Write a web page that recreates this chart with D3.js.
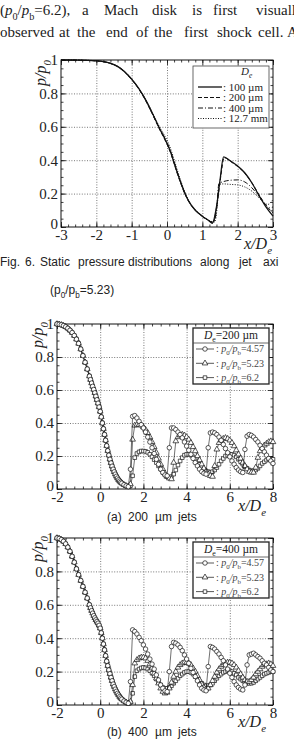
<!DOCTYPE html>
<html>
<head>
<meta charset="utf-8">
<script src="https://cdn.jsdelivr.net/npm/d3@7"></script>
<style>
  html, body { margin: 0; padding: 0; background: #fff; }
  svg { display: block; }
</style>
</head>
<body>
<div id="page"></div>
<script>
// ─── DATA ─────────────────────────────────────────────────────────────────────
//
// Fig. 6: static pressure p/p0 along the jet axis, four nozzle sizes (p0/pb=5.23)
// Each entry is [x/De, p/p0].
const fig6De100 = [
  [-3, 1], [-2.5, 0.999], [-2, 0.995], [-1.8, 0.99], [-1.6, 0.98], [-1.4, 0.962],
  [-1.2, 0.93], [-1, 0.885], [-0.8, 0.83], [-0.6, 0.76], [-0.4, 0.675], [-0.3, 0.63],
  [-0.2, 0.585], [-0.1, 0.545], [0, 0.5], [0.1, 0.45], [0.2, 0.385], [0.3, 0.32],
  [0.4, 0.26], [0.5, 0.205], [0.6, 0.16], [0.8, 0.1], [1, 0.065], [1.2, 0.035],
  [1.28, 0.022], [1.4, 0.12], [1.5, 0.28], [1.6, 0.42], [1.8, 0.395], [2, 0.365],
  [2.2, 0.325], [2.4, 0.265], [2.6, 0.19], [2.8, 0.12], [3, 0.065]
];
const fig6De200 = [
  [-3, 1], [-2.5, 0.999], [-2, 0.995], [-1.8, 0.99], [-1.6, 0.98], [-1.4, 0.96],
  [-1.2, 0.928], [-1, 0.882], [-0.8, 0.826], [-0.6, 0.755], [-0.4, 0.67], [-0.3, 0.625],
  [-0.2, 0.58], [-0.1, 0.54], [0, 0.495], [0.1, 0.445], [0.2, 0.38], [0.3, 0.315],
  [0.4, 0.255], [0.5, 0.2], [0.6, 0.158], [0.8, 0.1], [1, 0.065], [1.2, 0.036],
  [1.3, 0.025], [1.42, 0.14], [1.52, 0.3], [1.62, 0.415], [1.8, 0.392], [2, 0.362],
  [2.2, 0.322], [2.4, 0.265], [2.6, 0.195], [2.8, 0.13], [3, 0.085]
];
const fig6De400 = [
  [-3, 1], [-2.5, 0.999], [-2, 0.995], [-1.8, 0.99], [-1.6, 0.98], [-1.4, 0.962],
  [-1.2, 0.93], [-1, 0.885], [-0.8, 0.828], [-0.6, 0.758], [-0.4, 0.672], [-0.3, 0.628],
  [-0.2, 0.585], [-0.1, 0.548], [0, 0.505], [0.1, 0.455], [0.2, 0.39], [0.3, 0.322],
  [0.4, 0.26], [0.5, 0.205], [0.6, 0.16], [0.8, 0.1], [1, 0.063], [1.2, 0.036],
  [1.32, 0.028], [1.4, 0.1], [1.47, 0.26], [1.6, 0.272], [1.8, 0.28], [2, 0.282],
  [2.2, 0.27], [2.4, 0.235], [2.6, 0.185], [2.8, 0.13], [2.9, 0.115], [3, 0.12]
];
const fig6De12mm = [
  [-3, 1], [-2.5, 0.999], [-2, 0.995], [-1.8, 0.99], [-1.6, 0.98], [-1.4, 0.963],
  [-1.2, 0.932], [-1, 0.888], [-0.8, 0.83], [-0.6, 0.762], [-0.4, 0.678], [-0.3, 0.635],
  [-0.2, 0.595], [-0.1, 0.56], [0, 0.52], [0.1, 0.47], [0.2, 0.405], [0.3, 0.335],
  [0.4, 0.27], [0.5, 0.212], [0.6, 0.165], [0.8, 0.105], [1, 0.066], [1.2, 0.038],
  [1.35, 0.03], [1.42, 0.12], [1.47, 0.255], [1.6, 0.258], [1.8, 0.255], [2, 0.252],
  [2.2, 0.24], [2.4, 0.215], [2.6, 0.175], [2.75, 0.145], [2.85, 0.135], [2.95, 0.15],
  [3, 0.165]
];
const fig6Labels = [": 100 \u00b5m", ": 200 \u00b5m", ": 400 \u00b5m", ": 12.7 mm"];

// Fig. 7: sample positions (x/De). Nozzle part is sampled finer near the exit.
const headX = [
  -2, -1.9, -1.8, -1.7, -1.6, -1.5, -1.4, -1.3, -1.2, -1.1, -1, -0.9, -0.8, -0.7, -0.6,
  -0.5, -0.45, -0.4, -0.35, -0.3, -0.25, -0.2, -0.15, -0.1, -0.05,
  0, 0.05, 0.1, 0.15, 0.2, 0.25, 0.3, 0.35, 0.4, 0.45,
  0.5, 0.55, 0.6, 0.65, 0.7, 0.75, 0.8, 0.85, 0.9, 0.95, 1,
  1.1, 1.2, 1.3
];
const tailX = [
  1.4, 1.5, 1.6, 1.7, 1.8, 1.9,
  2, 2.1, 2.2, 2.3, 2.4, 2.5, 2.6, 2.7, 2.8, 2.9,
  3, 3.1, 3.2, 3.3, 3.4, 3.5, 3.6, 3.7, 3.8, 3.9,
  4, 4.1, 4.2, 4.3, 4.4, 4.5, 4.6, 4.7, 4.8, 4.9,
  5, 5.1, 5.2, 5.3, 5.4, 5.5, 5.6, 5.7, 5.8, 5.9,
  6, 6.1, 6.2, 6.3, 6.4, 6.5, 6.6, 6.7, 6.8, 6.9,
  7, 7.1, 7.2, 7.3, 7.4, 7.5, 7.6, 7.7, 7.8, 7.9,
  8
];
const prLabels = ["4.57", "5.23", "6.2"];

// (a) 200 um: common nozzle part (headX), then one tail per p0/pb (tailX)
const head200 = [
  1, 0.998, 0.995, 0.99, 0.983, 0.974, 0.962, 0.948, 0.93, 0.908, 0.882, 0.848, 0.808, 0.768, 0.727,
  0.684, 0.663, 0.642, 0.622, 0.603, 0.583, 0.562, 0.541, 0.52, 0.497,
  0.47, 0.437, 0.4, 0.365, 0.33, 0.295, 0.262, 0.232, 0.205, 0.18,
  0.158, 0.138, 0.12, 0.104, 0.09, 0.077, 0.066, 0.056, 0.048, 0.041, 0.035,
  0.026, 0.019, 0.014
];
const tail200_457 = [
  0.12, 0.44, 0.445, 0.43, 0.41, 0.39,
  0.37, 0.345, 0.315, 0.285, 0.25, 0.215, 0.18, 0.15, 0.12, 0.1,
  0.085, 0.08, 0.25, 0.37, 0.37, 0.36, 0.345, 0.33, 0.31, 0.285,
  0.26, 0.235, 0.21, 0.185, 0.16, 0.14, 0.12, 0.105, 0.095, 0.09,
  0.25, 0.34, 0.345, 0.34, 0.33, 0.315, 0.295, 0.27, 0.245, 0.22,
  0.195, 0.17, 0.15, 0.13, 0.115, 0.105, 0.1, 0.24, 0.32, 0.33,
  0.325, 0.315, 0.3, 0.285, 0.265, 0.245, 0.225, 0.205, 0.185, 0.17,
  0.155
];
const tail200_523 = [
  0.03, 0.3, 0.385, 0.39, 0.39, 0.385,
  0.375, 0.36, 0.34, 0.315, 0.285, 0.255, 0.22, 0.185, 0.15, 0.12,
  0.095, 0.075, 0.065, 0.06, 0.16, 0.29, 0.315, 0.325, 0.33, 0.325,
  0.315, 0.3, 0.28, 0.255, 0.23, 0.2, 0.175, 0.15, 0.125, 0.105,
  0.09, 0.08, 0.075, 0.14, 0.24, 0.28, 0.295, 0.305, 0.31, 0.305,
  0.295, 0.28, 0.26, 0.235, 0.21, 0.185, 0.16, 0.14, 0.12, 0.105,
  0.1, 0.1, 0.13, 0.19, 0.23, 0.25, 0.265, 0.275, 0.285, 0.29,
  0.285
];
const tail200_62 = [
  0.02, 0.08, 0.19, 0.215, 0.225, 0.23,
  0.23, 0.228, 0.222, 0.21, 0.195, 0.178, 0.16, 0.14, 0.12, 0.1,
  0.085, 0.075, 0.07, 0.075, 0.09, 0.115, 0.145, 0.17, 0.19, 0.205,
  0.21, 0.21, 0.205, 0.195, 0.18, 0.165, 0.15, 0.135, 0.12, 0.11,
  0.105, 0.1, 0.105, 0.115, 0.13, 0.15, 0.17, 0.185, 0.2, 0.205,
  0.21, 0.21, 0.205, 0.195, 0.18, 0.165, 0.15, 0.135, 0.125, 0.115,
  0.11, 0.11, 0.115, 0.125, 0.14, 0.155, 0.165, 0.175, 0.18, 0.18,
  0.18
];

// (b) 400 um
const head400 = [
  1, 0.997, 0.99, 0.98, 0.965, 0.945, 0.92, 0.89, 0.855, 0.815, 0.78, 0.745, 0.71, 0.675, 0.64,
  0.6, 0.582, 0.565, 0.55, 0.535, 0.522, 0.51, 0.5, 0.49, 0.477,
  0.46, 0.432, 0.4, 0.365, 0.33, 0.295, 0.262, 0.235, 0.21, 0.187,
  0.165, 0.145, 0.125, 0.11, 0.095, 0.082, 0.07, 0.06, 0.05, 0.042, 0.035,
  0.024, 0.016, 0.01
];
const tail400_457 = [
  0.14, 0.45, 0.44, 0.425, 0.405, 0.385,
  0.36, 0.335, 0.305, 0.275, 0.245, 0.215, 0.18, 0.15, 0.12, 0.1,
  0.085, 0.08, 0.2, 0.35, 0.375, 0.37, 0.36, 0.345, 0.325, 0.3,
  0.275, 0.25, 0.22, 0.195, 0.17, 0.145, 0.12, 0.1, 0.09, 0.085,
  0.23, 0.35, 0.345, 0.335, 0.32, 0.305, 0.285, 0.265, 0.24, 0.215,
  0.19, 0.165, 0.14, 0.12, 0.105, 0.095, 0.09, 0.12, 0.24, 0.3,
  0.305, 0.31, 0.3, 0.29, 0.28, 0.265, 0.25, 0.24, 0.225, 0.21,
  0.2
];
const tail400_523 = [
  0.02, 0.12, 0.25, 0.27, 0.28, 0.285,
  0.285, 0.28, 0.265, 0.245, 0.22, 0.19, 0.16, 0.13, 0.1, 0.08,
  0.07, 0.075, 0.1, 0.135, 0.17, 0.2, 0.225, 0.24, 0.25, 0.255,
  0.255, 0.25, 0.24, 0.22, 0.2, 0.175, 0.15, 0.125, 0.105, 0.095,
  0.1, 0.12, 0.145, 0.17, 0.195, 0.215, 0.23, 0.24, 0.25, 0.255,
  0.255, 0.25, 0.24, 0.225, 0.205, 0.185, 0.165, 0.15, 0.14, 0.14,
  0.15, 0.165, 0.185, 0.2, 0.215, 0.23, 0.24, 0.245, 0.25, 0.245,
  0.235
];
const tail400_62 = [
  0.015, 0.07, 0.17, 0.205, 0.215, 0.222,
  0.225, 0.222, 0.215, 0.205, 0.19, 0.175, 0.155, 0.135, 0.12, 0.105,
  0.1, 0.1, 0.105, 0.115, 0.13, 0.145, 0.16, 0.175, 0.185, 0.195,
  0.2, 0.2, 0.195, 0.185, 0.17, 0.155, 0.14, 0.13, 0.12, 0.115,
  0.115, 0.12, 0.13, 0.145, 0.16, 0.175, 0.185, 0.195, 0.2, 0.205,
  0.205, 0.2, 0.19, 0.18, 0.165, 0.155, 0.145, 0.135, 0.13, 0.13,
  0.13, 0.135, 0.145, 0.155, 0.165, 0.175, 0.185, 0.19, 0.195, 0.2,
  0.2
];

const yTickValues = [0, 0.2, 0.4, 0.6, 0.8, 1];

// ─── PAGE SETUP ───────────────────────────────────────────────────────────────
const SERIF = "'Liberation Serif', 'Times New Roman', serif";
const SANS = "'Liberation Sans', Arial, sans-serif";
const INK = "#222";

const svg = d3
  .select("#page")
  .append("svg")
  .attr("width", 294)
  .attr("height", 740);

// text with italic / subscript pieces: parts = [[str, "i" | "sub" | "isub" | ""], ...]
function rich(sel, parts, size) {
  let shift = 0;
  parts.forEach(([str, style]) => {
    const t = sel.append("tspan").text(str);
    const isSub = style.includes("sub");
    const target = isSub ? size * 0.3 : 0;
    if (target !== shift) {
      t.attr("dy", target - shift);
      shift = target;
    }
    if (isSub) t.attr("font-size", size * 0.68);
    if (style.startsWith("i")) t.attr("font-style", "italic");
  });
  return sel;
}

function words(list, y, family, size) {
  list.forEach(([x, str]) => {
    const t = svg
      .append("text")
      .attr("x", x)
      .attr("y", y)
      .attr("font-family", family)
      .attr("font-size", size)
      .attr("fill", INK);
    if (typeof str === "string") t.text(str);
    else rich(t, str, size);
  });
}

// ─── BODY TEXT + CAPTIONS ─────────────────────────────────────────────────────
words(
  [
    [0, [["(", ""], ["p", "i"], ["0", "sub"], ["/", ""], ["p", "i"], ["b", "sub"], ["=6.2),", ""]]],
    [82, "a"], [104, "Mach"], [152, "disk"], [192, "is"], [213, "first"], [256, "visuall"]
  ],
  15, SERIF, 15
);
words(
  [
    [0, "observed"], [59, "at"], [77, "the"], [106, "end"], [136, "of"], [154, "the"],
    [184, "first"], [217, "shock"], [258, "cell."], [287, "A"]
  ],
  37, SERIF, 15
);
words(
  [
    [0, "Fig."], [25, "6."], [40, "Static"], [78, "pressure"], [128, "distributions"],
    [200, "along"], [239, "jet"], [263, "axi"]
  ],
  266, SANS, 12
);
words(
  [[50, [["(p", ""], ["0", "sub"], ["/p", ""], ["b", "sub"], ["=5.23)", ""]]]],
  294, SANS, 12
);
words([[107, "(a)"], [128, "200"], [155, "\u00b5m"], [178, "jets"]], 521, SANS, 12);
words([[107, "(b)"], [128, "400"], [155, "\u00b5m"], [178, "jets"]], 736, SANS, 12);

// ─── AXES FRAME ───────────────────────────────────────────────────────────────
//
// Boxed Tecplot style: dotted grid at the major ticks, inward major + minor
// ticks on all four sides, serif tick labels on bottom and left only.
//
function drawAxes(x, y, cfg) {
  const [left, right] = x.range();
  const [bottom, top] = y.range();
  const g = svg.append("g");

  // 1. Dotted grid
  g.append("g")
    .attr("transform", `translate(0,${bottom})`)
    .call(d3.axisBottom(x).tickValues(cfg.xGrid).tickSize(-(bottom - top)).tickFormat(""))
    .call(s => s.select(".domain").remove());
  g.append("g")
    .attr("transform", `translate(${left},0)`)
    .call(d3.axisLeft(y).tickValues([0.2, 0.4, 0.6, 0.8]).tickSize(-(right - left)).tickFormat(""))
    .call(s => s.select(".domain").remove());
  g.selectAll(".tick line")
    .attr("stroke", "#555")
    .attr("stroke-width", 0.8)
    .attr("stroke-dasharray", "1,1.6");

  // 2. Inward ticks on the four sides
  const sides = [
    [d3.axisBottom(x), `translate(0,${bottom})`, cfg.xTicks, cfg.xMinor],
    [d3.axisTop(x), `translate(0,${top})`, cfg.xTicks, cfg.xMinor],
    [d3.axisLeft(y), `translate(${left},0)`, yTickValues, cfg.yMinor],
    [d3.axisRight(y), `translate(${right},0)`, yTickValues, cfg.yMinor]
  ];
  sides.forEach(([axis, tr, major, minor]) => {
    [[major, -5], [minor, -2.5]].forEach(([vals, size]) => {
      g.append("g")
        .attr("transform", tr)
        .call(axis.tickValues(vals).tickSize(size).tickFormat(""))
        .call(s => s.select(".domain").remove())
        .selectAll("line")
        .attr("stroke", "#111")
        .attr("stroke-width", 0.8);
    });
  });

  // 3. Tick labels (the bottom-left "0" sits a little higher, as in the print)
  const lab = [
    [d3.axisBottom(x).tickValues(cfg.xTicks), `translate(0,${bottom})`, 2],
    [d3.axisLeft(y).tickValues(yTickValues), `translate(${left},0)`, 3]
  ];
  lab.forEach(([axis, tr, pad], j) => {
    const texts = g.append("g")
      .attr("transform", tr)
      .call(axis.tickSize(0).tickPadding(pad).tickFormat(d => String(d)))
      .call(s => s.select(".domain").remove())
      .selectAll("text")
      .attr("font-family", SERIF)
      .attr("font-size", 15)
      .attr("fill", INK);
    if (j === 1) texts.filter(d => d === 0).attr("y", -3);
  });

  // 4. Frame
  g.append("rect")
    .attr("x", left)
    .attr("y", top)
    .attr("width", right - left)
    .attr("height", bottom - top)
    .attr("fill", "none")
    .attr("stroke", "#111")
    .attr("stroke-width", 1);

  // 5. Axis titles: p/p0 (rotated) and x/De
  rich(
    svg.append("text")
      .attr("transform", `translate(${cfg.yLabel[0]},${cfg.yLabel[1]}) rotate(-90)`)
      .attr("text-anchor", "middle")
      .attr("font-family", SERIF)
      .attr("font-size", 16)
      .attr("fill", INK),
    [["p", "i"], ["/", "i"], ["p", "i"], ["0", "isub"]],
    16
  );
  rich(
    svg.append("text")
      .attr("x", cfg.xLabel[0])
      .attr("y", cfg.xLabel[1])
      .attr("font-family", SERIF)
      .attr("font-size", 16)
      .attr("fill", INK),
    [["x", "i"], ["/", "i"], ["D", "i"], ["e", "isub"]],
    16
  );
}

// ─── FIG. 6: LINE CHART ───────────────────────────────────────────────────────
function drawFig6() {
  const x = d3.scaleLinear().domain([-3, 3]).range([61, 273]);
  const y = d3.scaleLinear().domain([0, 1]).range([227, 60]);

  drawAxes(x, y, {
    xTicks: [-3, -2, -1, 0, 1, 2, 3],
    xGrid: [-2, -1, 0, 1, 2],
    xMinor: d3.range(-3, 3.001, 0.2),
    yMinor: d3.range(0, 1.001, 0.05),
    yLabel: [46, 73],
    xLabel: [244, 249]
  });

  const series = [fig6De100, fig6De200, fig6De400, fig6De12mm];
  const dashes = [null, "4,2", "5,2,1,2", "1,1.5"];
  const line = d3
    .line()
    .x(d => x(d[0]))
    .y(d => y(d[1]))
    .curve(d3.curveMonotoneX);

  series.forEach((s, i) => {
    svg.append("path")
      .attr("d", line(s))
      .attr("fill", "none")
      .attr("stroke", "#111")
      .attr("stroke-width", i === 0 ? 1.3 : 1)
      .attr("stroke-dasharray", dashes[i]);
  });

  // Legend
  const lg = svg.append("g");
  lg.append("rect")
    .attr("x", 193)
    .attr("y", 66)
    .attr("width", 76)
    .attr("height", 62)
    .attr("fill", "#fff")
    .attr("stroke", "#444")
    .attr("stroke-width", 0.8);
  rich(
    lg.append("text")
      .attr("x", 241)
      .attr("y", 75)
      .attr("font-family", SERIF)
      .attr("font-size", 11)
      .attr("fill", INK),
    [["D", "i"], ["e", "isub"]],
    11
  );
  fig6Labels.forEach((label, i) => {
    const yy = 87 + i * 10.5;
    lg.append("line")
      .attr("x1", 198)
      .attr("x2", 222)
      .attr("y1", yy)
      .attr("y2", yy)
      .attr("stroke", "#111")
      .attr("stroke-width", i === 0 ? 1.3 : 1)
      .attr("stroke-dasharray", dashes[i]);
    lg.append("text")
      .attr("x", 223)
      .attr("y", yy + 3.5)
      .attr("font-family", SERIF)
      .attr("font-size", 11)
      .attr("fill", INK)
      .text(label);
  });
}

// ─── FIG. 7: MARKER CHARTS ────────────────────────────────────────────────────
const markerTypes = [d3.symbolCircle, d3.symbolTriangle, d3.symbolSquare];
const markerSizes = [16, 14, 13];

function drawMarkerChart(top, bottom, head, tails, sizeLabel) {
  const x = d3.scaleLinear().domain([-2, 8]).range([57, 273]);
  const y = d3.scaleLinear().domain([0, 1]).range([bottom, top]);

  drawAxes(x, y, {
    xTicks: [-2, 0, 2, 4, 6, 8],
    xGrid: [0, 2, 4, 6],
    xMinor: d3.range(-2, 8.001, 0.4),
    yMinor: d3.range(0, 1.001, 0.05),
    yLabel: [43, top + 11],
    xLabel: [238, bottom + 22]
  });

  const line = d3
    .line()
    .x(d => x(d[0]))
    .y(d => y(d[1]));

  const allX = headX.concat(tailX);

  // draw 6.2 first, 4.57 last so circles sit on top
  [2, 1, 0].forEach(k => {
    const allP = head.concat(tails[k]);
    const pts = allX.map((xv, i) => [xv, allP[i]]);
    const g = svg.append("g");
    g.append("path")
      .attr("d", line(pts))
      .attr("fill", "none")
      .attr("stroke", "#111")
      .attr("stroke-width", 0.6);
    g.selectAll("path.mk")
      .data(pts)
      .enter()
      .append("path")
      .attr("class", "mk")
      .attr("transform", d => `translate(${x(d[0])},${y(d[1])})`)
      .attr("d", d3.symbol().type(markerTypes[k]).size(markerSizes[k]))
      .attr("fill", "#fff")
      .attr("stroke", "#111")
      .attr("stroke-width", 0.7);
  });

  // Legend box with header row
  const lx = 193, ly = top + 4, lw = 76, lh = 56;
  const lg = svg.append("g");
  lg.append("rect")
    .attr("x", lx)
    .attr("y", ly)
    .attr("width", lw)
    .attr("height", lh)
    .attr("fill", "#fff")
    .attr("stroke", "#222")
    .attr("stroke-width", 1.3);
  lg.append("line")
    .attr("x1", lx)
    .attr("x2", lx + lw)
    .attr("y1", ly + 15)
    .attr("y2", ly + 15)
    .attr("stroke", "#444")
    .attr("stroke-width", 0.8);
  rich(
    lg.append("text")
      .attr("x", lx + lw / 2)
      .attr("y", ly + 11)
      .attr("text-anchor", "middle")
      .attr("font-family", SERIF)
      .attr("font-size", 11.5)
      .attr("fill", INK),
    [["D", "i"], ["e", "sub"], ["=" + sizeLabel + " \u00b5m", ""]],
    11.5
  );
  prLabels.forEach((label, k) => {
    const yy = ly + 21 + k * 14.3;
    lg.append("line")
      .attr("x1", lx + 3)
      .attr("x2", lx + 21)
      .attr("y1", yy)
      .attr("y2", yy)
      .attr("stroke", "#111")
      .attr("stroke-width", 0.7);
    lg.append("path")
      .attr("transform", `translate(${lx + 12},${yy})`)
      .attr("d", d3.symbol().type(markerTypes[k]).size(markerSizes[k]))
      .attr("fill", "#fff")
      .attr("stroke", "#111")
      .attr("stroke-width", 0.7);
    rich(
      lg.append("text")
        .attr("x", lx + 23)
        .attr("y", yy + 3.3)
        .attr("font-family", SERIF)
        .attr("font-size", 10)
        .attr("fill", "#444"),
      [[": ", ""], ["p", "i"], ["0", "sub"], ["/", "i"], ["p", "i"], ["b", "sub"], ["=" + label, ""]],
      10
    );
  });
}

drawFig6();
drawMarkerChart(324, 489, head200, [tail200_457, tail200_523, tail200_62], "200");
drawMarkerChart(538, 705, head400, [tail400_457, tail400_523, tail400_62], "400");
</script>
</body>
</html>
